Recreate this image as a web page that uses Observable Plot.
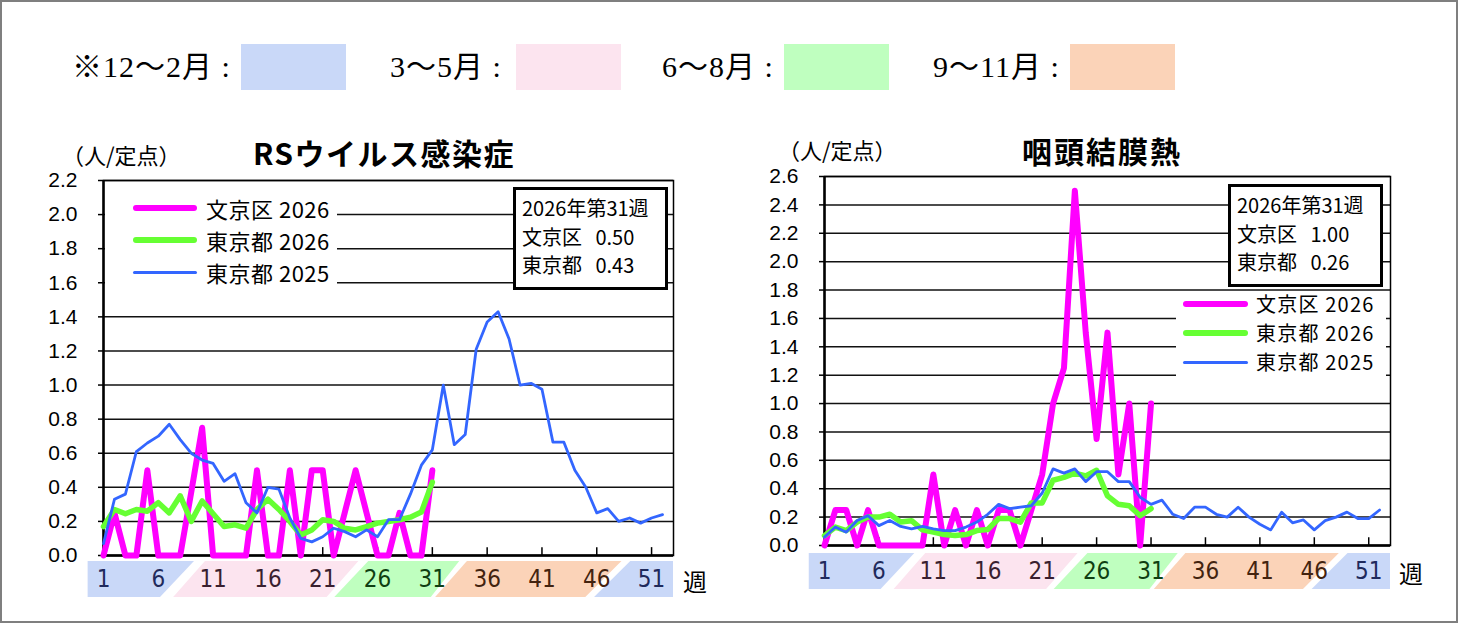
<!DOCTYPE html>
<html><head><meta charset="utf-8">
<script src="https://cdn.jsdelivr.net/npm/d3@7"></script>
<script src="https://cdn.jsdelivr.net/npm/@observablehq/plot@0.6"></script>
<style>
body{margin:0;background:#fff;}
#page{position:relative;width:1458px;height:623px;overflow:hidden;background:#fff;font-family:"Noto Sans CJK JP",sans-serif;color:#000;}
.abs{position:absolute;}
.border{left:0;top:0;width:1458px;height:623px;box-sizing:border-box;border:2px solid #7f7f7f;}
.season{font-family:"Liberation Serif","Noto Sans CJK JP",serif;font-size:30px;height:46px;line-height:46px;top:44px;white-space:pre;letter-spacing:1px;}
.sbox{top:44px;height:46px;width:105px;}
.unit{font-size:22px;height:30px;line-height:30px;white-space:pre;}
.title{font-weight:bold;font-size:30px;height:40px;line-height:40px;text-align:center;white-space:pre;}
.lg{background:#fff;}
.lgline{border-radius:3px;}
.lgtext{font-size:22px;height:26px;line-height:26px;white-space:pre;letter-spacing:0.5px;}
.lgtext.sm{font-size:20px;letter-spacing:1.2px;}
.info{box-sizing:border-box;border:3px solid #000;background:#fff;padding:4px 0 0 6px;font-size:20px;line-height:28.5px;white-space:pre;}
.wk{font-size:24px;height:30px;line-height:30px;}
</style></head><body><div id="page"></div>
<script>
// ---- data ----
const seasonLabels = ["※12～2月 :", "3～5月 :", "6～8月 :", "9～11月 :"];
const seasonColors = ["#c9d8f8", "#fce4ef", "#bfffbf", "#fbd3b8"];
const weekLabels = [1, 6, 11, 16, 21, 26, 31, 36, 41, 46, 51];
const weekLabelColors = ["#1f2a5c", "#1f2a5c", "#3a1f2f", "#3a1f2f", "#3a1f2f", "#0f3f12", "#0f3f12", "#43230f", "#43230f", "#43230f", "#1f2a5c"];
// season bands (in weeks): bottom edge start/end, top edge start/end
const bandColors = ["#c9d8f8", "#fce4ef", "#bfffbf", "#fbd3b8", "#c9d8f8"];
const bandBottomStart = [-0.4, 7.4, 22.1, 31.3, 45.8];
const bandBottomEnd = [6.2, 21.4, 30.9, 45.0, 53];
const bandTopStart = [-0.4, 10.3, 25.2, 34.2, 49.1];
const bandTopEnd = [9.3, 24.3, 33.5, 48.3, 53];
const seriesNames = ["文京区 2026", "東京都 2026", "東京都 2025"];
const seriesColors = ["#ff00ff", "#66ff33", "#3366ff"];

// RSウイルス感染症
const rsTicks = [0, 0.2, 0.4, 0.6, 0.8, 1.0, 1.2, 1.4, 1.6, 1.8, 2.0, 2.2];
const rsBunkyo2026 = [0, 0.25, 0, 0, 0.5, 0, 0, 0, 0.37, 0.75, 0, 0, 0, 0, 0.5, 0, 0, 0.5, 0, 0.5, 0.5, 0, 0.25, 0.5, 0.25, 0, 0, 0.25, 0, 0, 0.5];
const rsTokyo2026 = [0.17, 0.27, 0.245, 0.27, 0.26, 0.31, 0.25, 0.35, 0.20, 0.32, 0.245, 0.17, 0.18, 0.16, 0.27, 0.33, 0.27, 0.20, 0.12, 0.15, 0.21, 0.20, 0.16, 0.15, 0.17, 0.19, 0.20, 0.21, 0.225, 0.255, 0.43];
const rsTokyo2025 = [0.07, 0.33, 0.36, 0.61, 0.66, 0.70, 0.77, 0.68, 0.60, 0.56, 0.54, 0.435, 0.48, 0.31, 0.25, 0.40, 0.39, 0.22, 0.10, 0.08, 0.11, 0.16, 0.14, 0.11, 0.15, 0.11, 0.21, 0.21, 0.36, 0.53, 0.62, 1.00, 0.65, 0.71, 1.21, 1.37, 1.43, 1.27, 1.00, 1.01, 0.975, 0.665, 0.665, 0.50, 0.40, 0.25, 0.275, 0.20, 0.22, 0.19, 0.22, 0.24];
const rsInfo = ["2026年第31週", "文京区   0.50", "東京都   0.43"];

// 咽頭結膜熱
const pcTicks = [0, 0.2, 0.4, 0.6, 0.8, 1.0, 1.2, 1.4, 1.6, 1.8, 2.0, 2.2, 2.4, 2.6];
const pcBunkyo2026 = [0, 0.25, 0.25, 0, 0.25, 0, 0, 0, 0, 0, 0.5, 0, 0.25, 0, 0.25, 0, 0.25, 0.25, 0, 0.25, 0.5, 1.0, 1.25, 2.5, 1.5, 0.75, 1.5, 0.5, 1.0, 0, 1.0];
const pcTokyo2026 = [0.07, 0.13, 0.105, 0.165, 0.20, 0.20, 0.22, 0.165, 0.175, 0.11, 0.094, 0.077, 0.07, 0.077, 0.105, 0.113, 0.19, 0.19, 0.165, 0.30, 0.30, 0.46, 0.48, 0.51, 0.49, 0.53, 0.35, 0.29, 0.28, 0.21, 0.26];
const pcTokyo2025 = [0.06, 0.13, 0.094, 0.176, 0.21, 0.14, 0.176, 0.134, 0.117, 0.134, 0.117, 0.105, 0.105, 0.13, 0.165, 0.22, 0.29, 0.26, 0.27, 0.28, 0.37, 0.54, 0.51, 0.54, 0.45, 0.52, 0.52, 0.45, 0.45, 0.34, 0.29, 0.32, 0.22, 0.19, 0.27, 0.27, 0.22, 0.20, 0.27, 0.20, 0.15, 0.11, 0.235, 0.16, 0.18, 0.11, 0.175, 0.20, 0.235, 0.19, 0.19, 0.25];
const pcInfo = ["2026年第31週", "文京区   1.00", "東京都   0.26"];

// ---- helpers ----
const page = document.getElementById("page");
function el(cls, css, text) {
  const d = document.createElement("div");
  d.className = "abs " + (cls || "");
  Object.assign(d.style, css);
  if (text != null) d.textContent = text;
  page.appendChild(d);
  return d;
}
function place(node, left, top) {
  const w = document.createElement("div");
  w.className = "abs";
  w.style.left = left + "px"; w.style.top = top + "px";
  w.appendChild(node);
  page.appendChild(w);
}
const rows = (arr, s) => arr.map((v, i) => ({week: i + 1, value: v, series: s}));
const narrow = "'Liberation Sans Narrow','DejaVu Sans Condensed',sans-serif";

function mainChart(o) {
  const ymax = o.ticks[o.ticks.length - 1];
  const tickWeeks = weekLabels.slice(1);
  return Plot.plot({
    width: o.width, height: o.height,
    marginTop: o.mt, marginBottom: o.mb, marginLeft: o.ml, marginRight: o.mr,
    x: {domain: [1, 53], axis: null},
    y: {domain: [0, ymax]},
    style: {fontFamily: "'Liberation Sans',Arial,sans-serif", fontSize: "21px", color: "#000", background: "transparent", overflow: "visible"},
    marks: [
      Plot.ruleY(o.ticks, {stroke: "#111", strokeWidth: 1.5}),
      Plot.axisY({ticks: o.ticks, tickSize: 5, tickPadding: 21, tickFormat: d => d.toFixed(1), label: null, strokeWidth: 1.5, fontSize: 21}),
      Plot.ruleX(tickWeeks, {x: d => d, y1: 0, y2: ymax * 0.021, stroke: "#000", strokeWidth: 1.5}),
      Plot.frame({stroke: "#000", strokeWidth: 1.5}),
      Plot.ruleX([1], {stroke: "#000", strokeWidth: 2.5}),
      Plot.ruleY([0], {stroke: "#000", strokeWidth: 2.5}),
      Plot.line(rows(o.s1, seriesNames[0]), {x: "week", y: "value", stroke: seriesColors[0], strokeWidth: 6, strokeLinejoin: "round", strokeLinecap: "round"}),
      Plot.line(rows(o.s2, seriesNames[1]), {x: "week", y: "value", stroke: seriesColors[1], strokeWidth: 5.5, strokeLinejoin: "round", strokeLinecap: "round"}),
      Plot.line(rows(o.s3, seriesNames[2]), {x: "week", y: "value", stroke: seriesColors[2], strokeWidth: 2.8, strokeLinejoin: "round", strokeLinecap: "round"})
    ]
  });
}

function bandPoints() {
  const pts = [];
  bandColors.forEach((c, i) => {
    pts.push({band: i, color: c, x: bandBottomStart[i], y1: 0, y2: 0});
    pts.push({band: i, color: c, x: bandTopStart[i], y1: 0, y2: 1});
    pts.push({band: i, color: c, x: bandBottomEnd[i], y1: 0, y2: 1});
    pts.push({band: i, color: c, x: bandTopEnd[i], y1: 1, y2: 1});
  });
  return pts;
}
function bandChart(o) {
  return Plot.plot({
    width: o.width, height: 36, marginTop: 0, marginBottom: 0, marginLeft: o.ml, marginRight: o.mr,
    x: {domain: [1, 53], axis: null},
    y: {domain: [0, 1], axis: null},
    color: {type: "identity"},
    style: {background: "transparent", overflow: "visible"},
    marks: [
      Plot.area(bandPoints(), {x1: "x", y1: "y1", y2: "y2", z: "band", fill: "color"}),
      Plot.text(weekLabels, {x: d => d, y: 0.5, text: d => String(d), fill: (d, i) => weekLabelColors[i], fontSize: 24, fontFamily: narrow})
    ]
  });
}

// ---- top season legend ----
const seasonTextX = [72, 390, 662, 933];
const seasonBoxX = [241, 516, 784, 1070];
seasonLabels.forEach((t, i) => {
  el("season", {left: seasonTextX[i] + "px"}, t);
  el("sbox", {left: seasonBoxX[i] + "px", background: seasonColors[i]});
});

// ---- left chart ----
place(mainChart({width: 700, height: 390, mt: 10, mb: 5, ml: 103, mr: 27, ticks: rsTicks, s1: rsBunkyo2026, s2: rsTokyo2026, s3: rsTokyo2025}), 0, 170);
place(bandChart({width: 700, ml: 103, mr: 27}), 0, 561);
el("unit", {left: "62px", top: "139px"}, "（人/定点）");
el("title", {left: "234px", top: "132px", width: "300px", letterSpacing: "1.5px"}, "RSウイルス感染症");
el("wk", {left: "683px", top: "566px"}, "週");
el("lg", {left: "105px", top: "192px", width: "232px", height: "96px"});
[208, 240, 272].forEach((cy, i) => {
  el("lgline", {left: "133px", top: (cy - (i < 2 ? 3 : 1.5)) + "px", width: "64px", height: (i < 2 ? 6 : 3) + "px", background: seriesColors[i]});
  el("lgtext", {left: "206px", top: (cy - 13) + "px"}, seriesNames[i]);
});
el("info", {left: "513px", top: "187px", width: "155px", height: "103px"}, rsInfo.join("\n"));

// ---- right chart ----
place(mainChart({width: 700, height: 384, mt: 10, mb: 5, ml: 104, mr: 30, ticks: pcTicks, s1: pcBunkyo2026, s2: pcTokyo2026, s3: pcTokyo2025}), 720, 166);
place(bandChart({width: 700, ml: 104, mr: 30}), 720, 553);
el("unit", {left: "778px", top: "134px"}, "（人/定点）");
el("title", {left: "952px", top: "130px", width: "300px", letterSpacing: "2px"}, "咽頭結膜熱");
el("wk", {left: "1399px", top: "558px"}, "週");
el("lg", {left: "1176px", top: "291px", width: "210px", height: "85px"});
[304, 333, 362].forEach((cy, i) => {
  el("lgline", {left: "1183px", top: (cy - (i < 2 ? 3 : 1.5)) + "px", width: "65px", height: (i < 2 ? 6 : 3) + "px", background: seriesColors[i]});
  el("lgtext sm", {left: "1256px", top: (cy - 13) + "px"}, seriesNames[i]);
});
el("info", {left: "1228px", top: "184px", width: "155px", height: "103px"}, pcInfo.join("\n"));

el("border", {});
</script></body></html>
